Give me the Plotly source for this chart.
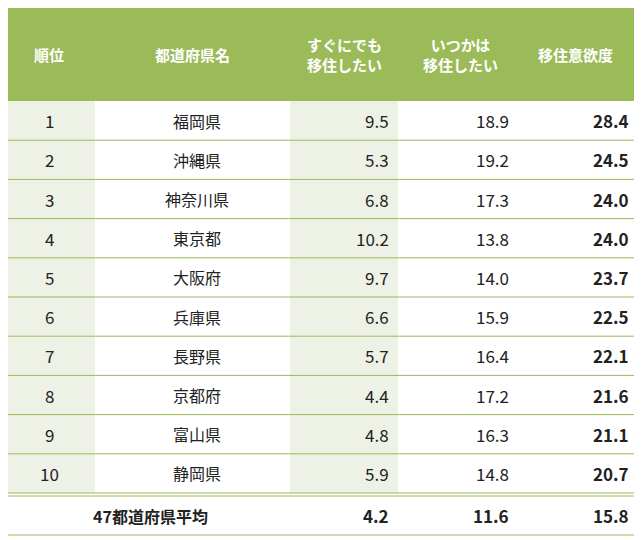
import plotly.graph_objects as go

ranks = ["1","2","3","4","5","6","7","8","9","10"]
prefs = ["福岡県","沖縄県","神奈川県","東京都","大阪府","兵庫県","長野県","京都府","富山県","静岡県"]
soon = [9.5,5.3,6.8,10.2,9.7,6.6,5.7,4.4,4.8,5.9]
someday = [18.9,19.2,17.3,13.8,14.0,15.9,16.4,17.2,16.3,14.8]
desire = [28.4,24.5,24.0,24.0,23.7,22.5,22.1,21.6,21.1,20.7]
avg_label = "47都道府県平均"
avg_vals = [4.2,11.6,15.8]
headers = ["順位","都道府県名","すぐにでも<br>移住したい","いつかは<br>移住したい","移住意欲度"]

GREEN = "#9bbb59"; LIGHT = "#eef2e6"; TXT = "#222222"
FONT = "Noto Sans CJK JP"
L, R = 6, 636
cols = [6, 95, 290, 398, 523, 636]
top, hb = 7, 101
rh = 39.2
shapes = []; ann = []
shapes.append(dict(type="rect", x0=L, x1=R, y0=top, y1=hb, fillcolor=GREEN, line_width=0, layer="below"))
hx = [49, 192, 344, 460, 575]
for x, h in zip(hx, headers):
    ann.append(dict(x=x, y=(top+hb)/2, text=f"<b>{h}</b>", showarrow=False,
                    font=dict(color="white", size=15, family=FONT), xanchor="center", yanchor="middle"))
for i in range(len(ranks)):
    y0 = hb + i*rh; y1 = y0 + rh; yc = (y0+y1)/2
    for c in (0, 2):
        shapes.append(dict(type="rect", x0=cols[c], x1=cols[c+1], y0=y0, y1=y1, fillcolor=LIGHT, line_width=0, layer="below"))
    shapes.append(dict(type="line", x0=L, x1=R, y0=y1, y1=y1, line=dict(color=GREEN, width=1)))
    f = dict(color=TXT, size=17, family=FONT)
    ann.append(dict(x=49, y=yc, text=ranks[i], showarrow=False, font=f, xanchor="center", yanchor="middle"))
    ann.append(dict(x=197, y=yc, text=prefs[i], showarrow=False, font=dict(color=TXT, size=16, family=FONT), xanchor="center", yanchor="middle"))
    ann.append(dict(x=391, y=yc, text=f"{soon[i]:.1f}", showarrow=False, font=f, xanchor="right", yanchor="middle"))
    ann.append(dict(x=511, y=yc, text=f"{someday[i]:.1f}", showarrow=False, font=f, xanchor="right", yanchor="middle"))
    ann.append(dict(x=631, y=yc, text=f"<b>{desire[i]:.1f}</b>", showarrow=False, font=f, xanchor="right", yanchor="middle"))
yend = hb + len(ranks)*rh
shapes.append(dict(type="line", x0=L, x1=R, y0=yend+3, y1=yend+3, line=dict(color=GREEN, width=1)))
ab = 535
shapes.append(dict(type="line", x0=L, x1=R, y0=ab, y1=ab, line=dict(color=GREEN, width=1)))
shapes.append(dict(type="line", x0=L, x1=L, y0=top, y1=ab, line=dict(color=GREEN, width=1)))
shapes.append(dict(type="line", x0=R, x1=R, y0=top, y1=ab, line=dict(color=GREEN, width=1)))
yc = (yend+3+ab)/2
f = dict(color=TXT, size=17, family=FONT)
ann.append(dict(x=150, y=yc, text=f"<b>{avg_label}</b>", showarrow=False, font=dict(color=TXT, size=16, family=FONT), xanchor="center", yanchor="middle"))
for x, v in zip([391, 511, 631], avg_vals):
    ann.append(dict(x=x, y=yc, text=f"<b>{v:.1f}</b>", showarrow=False, font=f, xanchor="right", yanchor="middle"))

fig = go.Figure()
# page body has an 8px margin; offset axis ranges so coordinates land on screen pixels
fig.update_layout(width=642, height=540, margin=dict(l=0, r=0, t=0, b=0),
                  paper_bgcolor="white", plot_bgcolor="white", shapes=shapes, annotations=ann,
                  xaxis=dict(range=[8, 650], visible=False, fixedrange=True),
                  yaxis=dict(range=[548, 8], visible=False, fixedrange=True), showlegend=False)
fig.write_html("out.html")
